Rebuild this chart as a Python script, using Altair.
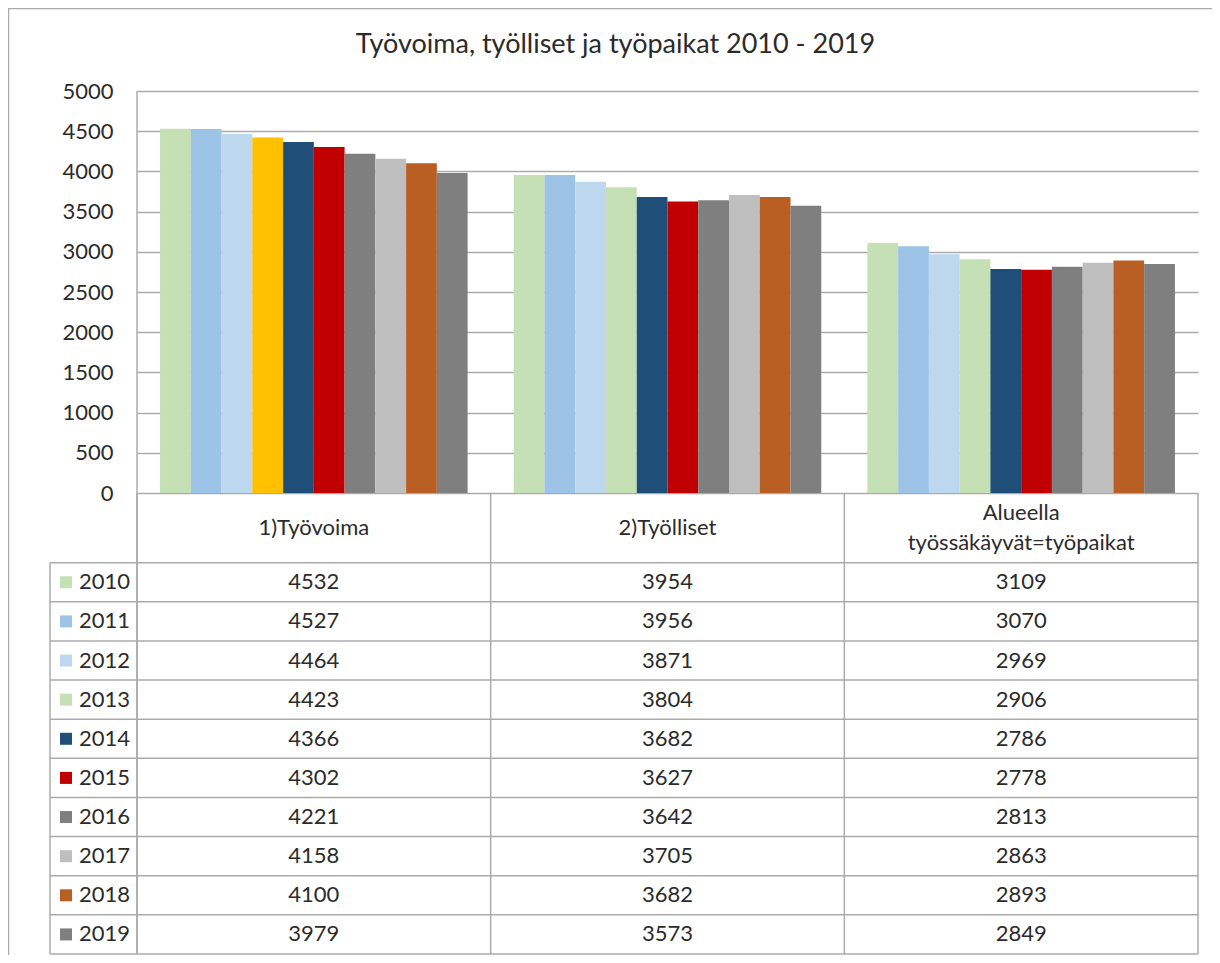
import altair as alt
import pandas as pd

# ---------------- data ----------------
title_text = "Työvoima, työlliset ja työpaikat 2010 - 2019"
groups = ["1)Työvoima", "2)Työlliset", "Alueella\ntyössäkäyvät=työpaikat"]
years = ["2010", "2011", "2012", "2013", "2014", "2015", "2016", "2017", "2018", "2019"]
tyovoima = [4532, 4527, 4464, 4423, 4366, 4302, 4221, 4158, 4100, 3979]
tyolliset = [3954, 3956, 3871, 3804, 3682, 3627, 3642, 3705, 3682, 3573]
tyopaikat = [3109, 3070, 2969, 2906, 2786, 2778, 2813, 2863, 2893, 2849]
y_ticks = [0, 500, 1000, 1500, 2000, 2500, 3000, 3500, 4000, 4500, 5000]

# ---------------- styles ----------------
year_colors = ["#C5E0B4", "#9DC3E6", "#BDD7EE", "#C5E0B4", "#1F4E79",
               "#C00000", "#7F7F7F", "#BFBFBF", "#B95F24", "#7F7F7F"]
bar_color_override = {("1)Työvoima", "2013"): "#FFC000"}
FONT = "Lato"
TXT = "#2B2B2B"
LINE = "#ABABAB"
LW = 1.5

W, H = 1061, 402
ROW_TOP, ROW_BOT = 471.7, 863
HEADER_Y = 437
LINE_H = 30

series = [tyovoima, tyolliset, tyopaikat]
rows = []
for g, vals in zip(groups, series):
    for y, v, c in zip(years, vals, year_colors):
        rows.append({"group": g, "year": y, "value": v,
                     "color": bar_color_override.get((g, y), c)})
df = pd.DataFrame(rows)
df_years = pd.DataFrame({"year": years, "color": year_colors})
df_groups = pd.DataFrame({"group": groups})
df_groups["nlines"] = [g.count("\n") + 1 for g in groups]
one = pd.DataFrame({"k": [0]})

xs = alt.Scale(domain=groups, paddingInner=0, paddingOuter=0)
xos = alt.Scale(domain=years, paddingInner=0, paddingOuter=0.75)
rs = alt.Scale(domain=years, range=[ROW_TOP, ROW_BOT], paddingInner=0, paddingOuter=0)

X = lambda **kw: alt.X("group:N", scale=xs, axis=None, sort=groups, **kw)
RowY = lambda **kw: alt.Y("year:N", scale=rs, axis=None, sort=years, **kw)

bars = alt.Chart(df).mark_bar().encode(
    x=X(),
    xOffset=alt.XOffset("year:N", scale=xos, sort=years),
    y=alt.Y("value:Q", scale=alt.Scale(domain=[0, 5000], nice=False),
            axis=alt.Axis(values=y_ticks, grid=True, gridColor=LINE, gridWidth=LW,
                          domain=False, ticks=False, labelPadding=24, labelFont=FONT,
                          labelFontSize=22, labelColor=TXT, title=None, format="d")),
    color=alt.Color("color:N", scale=None),
)

values_txt = alt.Chart(df).mark_text(font=FONT, fontSize=22, color=TXT).encode(
    x=X(), y=RowY(), text=alt.Text("value:Q", format="d"))

swatch = alt.Chart(df_years).mark_square(size=144, filled=True, opacity=1).encode(
    x=alt.value(-71), y=RowY(), color=alt.Color("color:N", scale=None))

year_txt = alt.Chart(df_years).mark_text(font=FONT, fontSize=22, color=TXT, align="left").encode(
    x=alt.value(-58), y=RowY(), text="year:N")

header_1 = alt.Chart(df_groups).transform_filter("datum.nlines == 1").mark_text(
    font=FONT, fontSize=22, color=TXT).encode(
    x=X(), y=alt.value(HEADER_Y), text="group:N")

header_2 = alt.Chart(df_groups).transform_filter("datum.nlines == 2").mark_text(
    font=FONT, fontSize=22, color=TXT, lineBreak="\n", lineHeight=LINE_H).encode(
    x=X(), y=alt.value(HEADER_Y - LINE_H / 2), text="group:N")

h_rules = alt.Chart(df_years).mark_rule(color=LINE, strokeWidth=LW).encode(
    y=RowY(bandPosition=0), x=alt.value(-87), x2=alt.value(W))

v_rules = alt.Chart(df_groups).mark_rule(color=LINE, strokeWidth=LW).encode(
    x=X(bandPosition=0), y=alt.value(H), y2=alt.value(ROW_BOT))

def rule(**enc):
    return alt.Chart(one).mark_rule(color=LINE, strokeWidth=LW).encode(**enc)

bottom_rule = rule(y=alt.value(ROW_BOT), x=alt.value(-87), x2=alt.value(W))
right_rule = rule(x=alt.value(W), y=alt.value(H), y2=alt.value(ROW_BOT))
left_axis_rule = rule(x=alt.value(0), y=alt.value(0), y2=alt.value(ROW_BOT))
legend_left_rule = rule(x=alt.value(-87), y=alt.value(ROW_TOP), y2=alt.value(ROW_BOT))
frame_top = rule(y=alt.value(-82.5), x=alt.value(-129), x2=alt.value(1075))
frame_left = rule(x=alt.value(-128.5), y=alt.value(-83), y2=alt.value(864))

chart = alt.layer(
    bars, h_rules, bottom_rule, v_rules, right_rule, left_axis_rule, legend_left_rule,
    frame_top, frame_left, values_txt, swatch, year_txt, header_1, header_2
).resolve_scale(y="independent").properties(
    width=W, height=H,
    padding={"left": 129, "top": 83, "right": 14, "bottom": 462},
    autosize=alt.AutoSizeParams(type="none"),
    title=alt.TitleParams(text=title_text, font=FONT, fontSize=27, fontWeight="normal",
                          color=TXT, anchor="middle", dx=-52, offset=-52),
).configure_view(stroke=None)

chart.save("out.html", embed_options={"renderer": "svg", "actions": False})
